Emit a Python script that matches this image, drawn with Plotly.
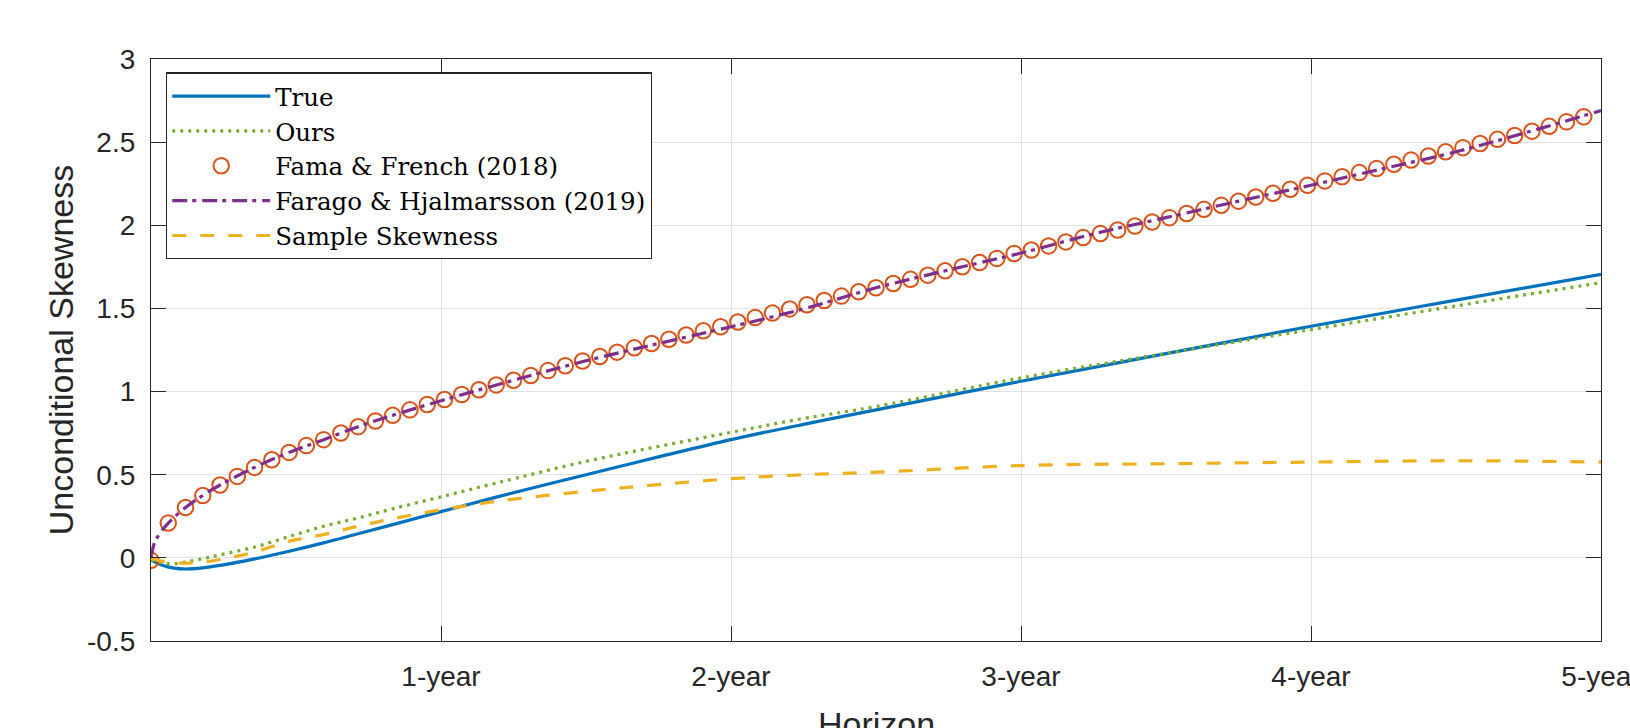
import plotly.graph_objects as go

# ---- data (horizon in trading days, 252 per year) ----
year_ticks = [252, 504, 756, 1008, 1260]
year_labels = ["1-year", "2-year", "3-year", "4-year", "5-year"]
y_ticks = [-0.5, 0, 0.5, 1, 1.5, 2, 2.5, 3]
y_labels = ["-0.5", "0", "0.5", "1", "1.5", "2", "2.5", "3"]

curve_days = [0, 10, 20, 30, 45, 60, 90, 120, 150, 180, 210, 252, 300, 378,
              441, 504, 567, 630, 756, 882, 1008, 1134, 1260]
true_skew = [-0.012, -0.045, -0.062, -0.067, -0.06, -0.045, -0.006, 0.04, 0.09,
             0.145, 0.20, 0.278, 0.365, 0.50, 0.607, 0.711, 0.803, 0.89, 1.062,
             1.228, 1.393, 1.55, 1.705]
ours_skew = [-0.015, -0.032, -0.035, -0.025, -0.005, 0.018, 0.065, 0.128, 0.19,
             0.24, 0.295, 0.367, 0.45, 0.58, 0.67, 0.755, 0.838, 0.91, 1.082,
             1.23, 1.373, 1.515, 1.655]
sample_skew = [-0.005, -0.02, -0.03, -0.032, -0.025, -0.01, 0.035, 0.10, 0.14,
               0.19, 0.235, 0.289, 0.34, 0.40, 0.44, 0.476, 0.50, 0.515, 0.555,
               0.566, 0.576, 0.584, 0.576]

ff_days = list(range(0, 1260, 15))
ff_skew = [-0.015, 0.209, 0.303, 0.375, 0.438, 0.49, 0.544, 0.59, 0.634, 0.675,
           0.711, 0.751, 0.789, 0.823, 0.857, 0.89, 0.922, 0.952, 0.982, 1.011,
           1.040, 1.068, 1.097, 1.126, 1.155, 1.184, 1.211, 1.237, 1.263, 1.289,
           1.315, 1.340, 1.366, 1.390, 1.418, 1.445, 1.472, 1.497, 1.522, 1.548,
           1.574, 1.600, 1.624, 1.650, 1.675, 1.700, 1.726, 1.751, 1.776, 1.801,
           1.830, 1.851, 1.876, 1.900, 1.926, 1.950, 1.972, 1.996, 2.020, 2.046,
           2.071, 2.096, 2.120, 2.145, 2.170, 2.193, 2.217, 2.241, 2.267, 2.292,
           2.317, 2.341, 2.367, 2.392, 2.417, 2.442, 2.467, 2.492, 2.517, 2.540,
           2.566, 2.595, 2.622, 2.652]

fh_days = [0, 3, 8, 15, 30, 45, 60, 90, 120, 150, 180, 210, 252, 315, 378, 441,
           504, 567, 630, 693, 756, 819, 882, 945, 1008, 1071, 1134, 1197, 1260]
fh_skew = [0.0, 0.09, 0.15, 0.209, 0.303, 0.375, 0.438, 0.544, 0.634, 0.711,
           0.789, 0.857, 0.945, 1.068, 1.185, 1.289, 1.390, 1.497, 1.624, 1.731,
           1.833, 1.948, 2.046, 2.145, 2.241, 2.341, 2.442, 2.562, 2.69]

AX = "#262626"
fig = go.Figure()
fig.add_trace(go.Scatter(x=curve_days, y=true_skew, name="True", mode="lines",
                         line=dict(color="#0072BD", width=3.2, shape="spline")))
fig.add_trace(go.Scatter(x=curve_days, y=ours_skew, name="Ours", mode="lines",
                         line=dict(color="#77AC30", width=3.2, dash="3px,5px", shape="spline")))
fig.add_trace(go.Scatter(x=ff_days, y=ff_skew, name="Fama &amp; French (2018)", mode="markers",
                         marker=dict(symbol="circle-open", size=15.5, color="#D95319",
                                     line=dict(width=2, color="#D95319"))))
fig.add_trace(go.Scatter(x=fh_days, y=fh_skew, name="Farago &amp; Hjalmarsson (2019)", mode="lines",
                         line=dict(color="#7E2F8E", width=3.2, dash="15px,5px,4px,6px", shape="spline")))
fig.add_trace(go.Scatter(x=curve_days, y=sample_skew, name="Sample Skewness", mode="lines",
                         line=dict(color="#EDB120", width=3.2, dash="14px,14px", shape="spline")))

axis_common = dict(showline=True, linecolor=AX, linewidth=1.3, mirror="ticks",
                   ticks="inside", ticklen=15, tickwidth=1.3, tickcolor=AX,
                   showgrid=True, gridcolor="#e1e1e1", gridwidth=1, zeroline=False,
                   ticklabeloverflow="allow", automargin=False,
                   tickfont=dict(family="Liberation Sans", size=28, color=AX))

fig.update_xaxes(range=[0, 1260], tickvals=year_ticks, ticktext=year_labels,
                 ticklabelstandoff=10, **axis_common)
fig.update_yaxes(range=[-0.5, 3], tickvals=y_ticks, ticktext=y_labels,
                 ticklabelstandoff=9,
                 title=dict(text="Unconditional Skewness", standoff=3,
                            font=dict(family="Liberation Sans", size=34, color=AX)),
                 **axis_common)

# x-axis title (sits partly below the figure edge, as in the source)
fig.add_annotation(text="Horizon", xref="paper", yref="paper", x=0.5, y=-0.1057,
                   xanchor="center", yanchor="top", showarrow=False,
                   font=dict(family="Liberation Sans", size=34, color=AX))

fig.update_layout(
    width=1630, height=728,
    margin=dict(l=151, r=29, t=59, b=87, autoexpand=False),
    paper_bgcolor="white", plot_bgcolor="white",
    showlegend=True,
    legend=dict(x=0.0103, y=0.977, xanchor="left", yanchor="top",
                bgcolor="white", bordercolor=AX, borderwidth=1.3,
                itemwidth=98, tracegroupgap=0,
                font=dict(family="DejaVu Serif", size=24.5, color="black")),
)

fig.write_html("out.html", config={"displayModeBar": False},
               post_script="document.body.style.margin='0';document.documentElement.style.overflow='hidden';")
